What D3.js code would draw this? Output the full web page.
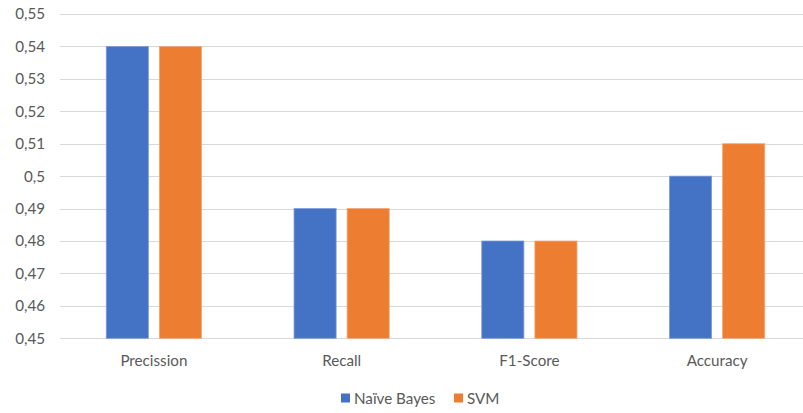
<!DOCTYPE html>
<html><head><meta charset="utf-8">
<script src="https://cdn.jsdelivr.net/npm/d3@7"></script>
<style>body{margin:0;background:#fff}svg{display:block}text{font-family:Lato,"Open Sans",sans-serif;fill:#595959}</style>
</head><body>
<svg id="c" width="803" height="413"></svg>
<script>
const categories = ["Precission","Recall","F1-Score","Accuracy"];
const seriesNames = ["Naïve Bayes","SVM"];
const naiveBayes = [0.54,0.49,0.48,0.50];
const svmValues = [0.54,0.49,0.48,0.51];
const yTicks = [0.45,0.46,0.47,0.48,0.49,0.50,0.51,0.52,0.53,0.54,0.55];
const colors = ["#4472C4","#ED7D31"];
const seriesData = [naiveBayes, svmValues];

(function(){
const svg = d3.select("#c");
const pl = 60, pr = 811, pt = 14, pb = 338.3;
const fs = 15.2;
const y = d3.scaleLinear().domain([0.45,0.55]).range([pb, pt]);
const x0 = d3.scaleBand().domain(categories).range([pl, pr]);
const grp = 95.2;
const x1 = d3.scaleBand().domain(seriesNames)
  .range([(x0.bandwidth()-grp)/2, (x0.bandwidth()+grp)/2]).paddingInner(11/53);

const fmt = v => d3.format(".2~f")(v).replace(".", ",");

svg.append("g").selectAll("line").data(yTicks).join("line")
  .attr("x1", pl).attr("x2", 803)
  .attr("y1", d => Math.round(y(d))+0.5).attr("y2", d => Math.round(y(d))+0.5)
  .attr("stroke", "#D9D9D9").attr("stroke-width", 1);

const yAxis = d3.axisLeft(y).tickValues(yTicks).tickFormat(fmt).tickSize(0).tickPadding(0);
const ya = svg.append("g").attr("transform", `translate(45,0)`).call(yAxis);
ya.select(".domain").remove();
ya.selectAll("text").attr("font-size", fs).attr("fill", "#595959").style("font-family","Lato,sans-serif");

categories.forEach((c, i) => {
  seriesNames.forEach((s, j) => {
    svg.append("rect")
      .attr("x", x0(c) + x1(s))
      .attr("y", y(seriesData[j][i]))
      .attr("width", x1.bandwidth())
      .attr("height", y(0.45) - y(seriesData[j][i]))
      .attr("fill", colors[j])
      .attr("stroke", j===0 ? "#7E9BD6" : "#F2A679").attr("stroke-width", 0.8);
  });
});

const xAxis = d3.axisBottom(x0).tickSize(0).tickPadding(0);
const xa = svg.append("g").attr("transform", `translate(0,${pb+17})`).call(xAxis);
xa.select(".domain").remove();
xa.selectAll("text").attr("font-size", fs).attr("fill", "#595959").style("font-family","Lato,sans-serif");

const lg = svg.append("g");
const legendX = [341, 454];
seriesNames.forEach((s, j) => {
  lg.append("rect").attr("x", legendX[j]).attr("y", 393.5).attr("width", 9).attr("height", 9).attr("fill", colors[j]);
  lg.append("text").attr("x", legendX[j]+13).attr("y", 403.5).attr("font-size", fs).text(s);
});
})();
</script>
</body></html>
